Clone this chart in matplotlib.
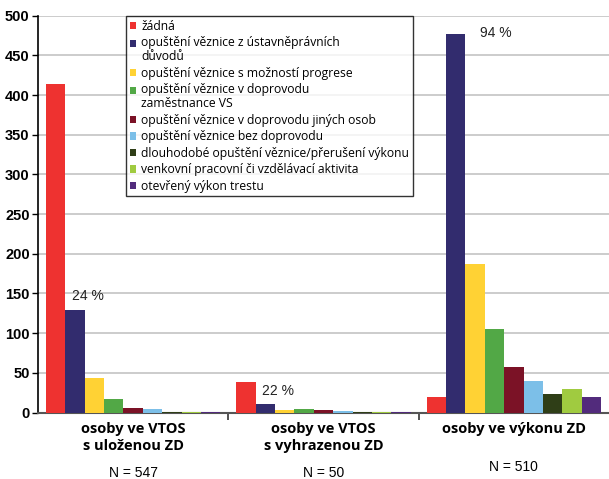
import numpy as np
import matplotlib.pyplot as plt
from matplotlib.patches import Patch, Rectangle
from matplotlib.legend_handler import HandlerPatch

groups = ['osoby ve VTOS\ns uloženou ZD', 'osoby ve VTOS\ns vyhrazenou ZD', 'osoby ve výkonu ZD']
group_n = ['N = 547', 'N = 50', 'N = 510']
series = ['žádná',
          'opuštění věznice z ústavněprávních\ndůvodů',
          'opuštění věznice s možností progrese',
          'opuštění věznice v doprovodu\nzaměstnance VS',
          'opuštění věznice v doprovodu jiných osob',
          'opuštění věznice bez doprovodu',
          'dlouhodobé opuštění věznice/přerušení výkonu',
          'venkovní pracovní či vzdělávací aktivita',
          'otevřený výkon trestu']
values = [
    [414, 38, 19],
    [129, 11, 477],
    [44, 3, 187],
    [17, 4, 105],
    [6, 3, 57],
    [4, 2, 40],
    [1, 1, 23],
    [1, 1, 29],
    [1, 1, 19],
]
pct_labels = ['24 %', '22 %', '94 %']
pct_x = [-0.321, 0.679, 1.821]
pct_y = [147, 27, 478]
colors = ['#EE3230', '#322C6E', '#FFD234', '#52A846', '#7B1226',
          '#7CBFE8', '#2F3E17', '#A0CB40', '#522B7C']


class TopPatch(HandlerPatch):
    # put the little square next to the first line of a two-line label
    def __init__(self, shift=0, **kw):
        super().__init__(**kw)
        self.shift = shift

    def create_artists(self, legend, orig_handle, xdescent, ydescent, width, height, fontsize, trans):
        p = Rectangle((-xdescent, -ydescent + self.shift), width, height,
                      facecolor=orig_handle.get_facecolor(), edgecolor='none', transform=trans)
        return [p]


fig = plt.figure(figsize=(6.09, 4.79), dpi=100)
ax = fig.add_axes([0.0624, 0.1388, 0.9376, 0.8285])

w = 0.1016
x = np.arange(len(groups))
for i, vals in enumerate(values):
    ax.bar(x - 4 * w + i * w, vals, width=w, color=colors[i], zorder=3)

for g in range(len(groups)):
    ax.text(pct_x[g], pct_y[g], pct_labels[g], fontsize=10, family='Liberation Sans',
            color='#222222', ha='left', va='center', zorder=4)

ax.set_xlim(-0.5, 2.5)
ax.set_ylim(0, 500)
ax.set_yticks(np.arange(0, 501, 50))
ax.yaxis.grid(True, color='#c4c4c4', linewidth=1.2, zorder=0)
ax.set_axisbelow(True)
for lab in ax.get_yticklabels():
    lab.set_fontweight('bold')
    lab.set_family('Liberation Sans')
    lab.set_fontsize(10.5)
ax.tick_params(axis='y', direction='out', length=4, width=1, pad=2)
ax.set_xticks([0.5, 1.5])
ax.set_xticklabels([])
ax.tick_params(axis='x', direction='out', length=5, width=1.2, color='#333333')
ax.spines['top'].set_visible(False)
ax.spines['right'].set_visible(False)
ax.spines['left'].set_linewidth(1.2)
ax.spines['bottom'].set_color('#555555')
ax.spines['bottom'].set_linewidth(1.5)

for g in range(len(groups)):
    ax.text(x[g], -0.024, groups[g], transform=ax.get_xaxis_transform(),
            ha='center', va='top', fontsize=10.5, fontweight='bold',
            family='Open Sans', linespacing=1.3)
    ax.text(x[g], -0.135 if g != 2 else -0.12, group_n[g], transform=ax.get_xaxis_transform(),
            ha='center', va='top', fontsize=10, family='Liberation Sans')

handles = [Patch(facecolor=c, edgecolor='none') for c in colors]
hmap = {h: TopPatch(shift=5.0 if '\n' in s else 0) for h, s in zip(handles, series)}
leg = ax.legend(handles, series, loc='upper left', bbox_to_anchor=(126 / 609, 1 - 16 / 479),
                bbox_transform=fig.transFigure, frameon=True, fancybox=False,
                handlelength=0.55, handleheight=0.55, handletextpad=0.4, labelspacing=0.29,
                borderpad=0.3, borderaxespad=0, prop={'family': 'Open Sans', 'size': 8.7},
                handler_map=hmap)
for t in leg.get_texts():
    t.set_linespacing(1.1)
leg.get_frame().set_edgecolor('black')
leg.get_frame().set_linewidth(1)
leg.set_zorder(5)

fig.savefig('out.png', dpi=100)
